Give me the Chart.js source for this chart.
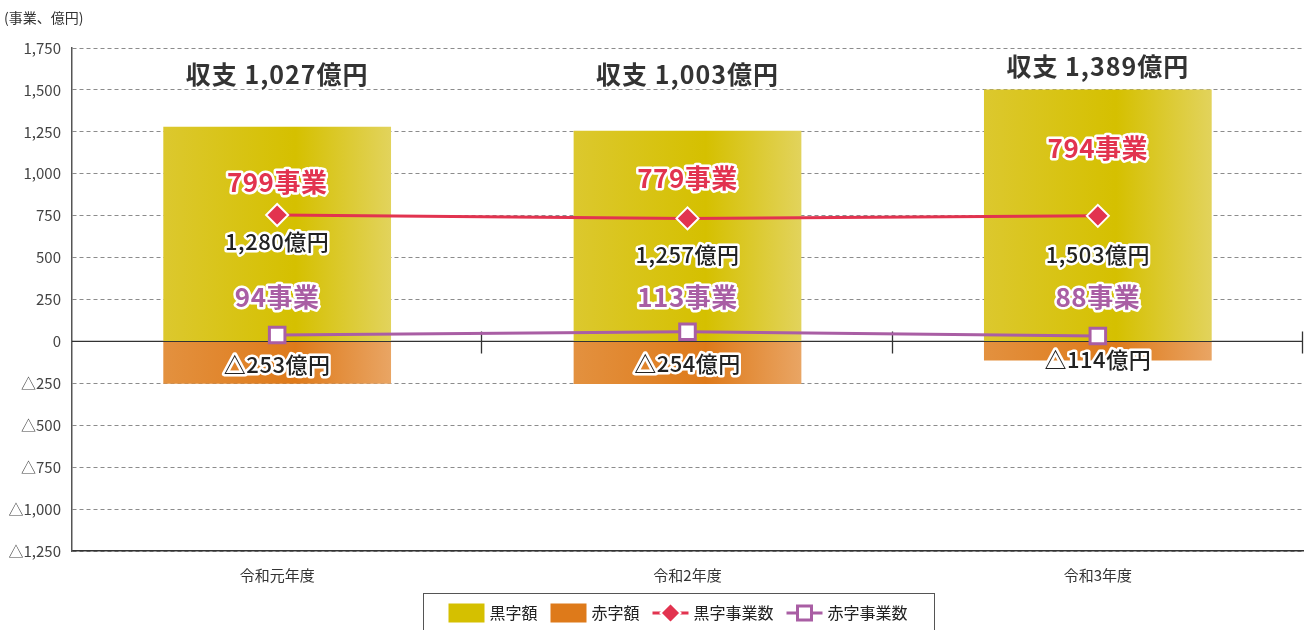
<!DOCTYPE html>
<html><head><meta charset="utf-8">
<script src="https://cdn.jsdelivr.net/npm/chart.js@4.4.1/dist/chart.umd.min.js"></script>
<style>html,body{margin:0;padding:0;background:#fff;overflow:hidden}#wrap{width:1306px;height:630px;position:relative;overflow:hidden}canvas{display:block}</style>
</head><body><div id="wrap"><canvas id="c" width="1306" height="630"></canvas></div>
<script>
// ---- data ----
const categories = ['令和元年度', '令和2年度', '令和3年度'];
const surplusAmount = [1280, 1257, 1503];   // 黒字額 (億円)
const deficitAmount = [-253, -254, -114];   // 赤字額 (億円)
const surplusCount = [799, 779, 794];       // 黒字事業数
const deficitCount = [94, 113, 88];         // 赤字事業数
const yTickValues = [-1250, -1000, -750, -500, -250, 0, 250, 500, 750, 1000, 1250, 1500, 1750];
const seriesNames = ['黒字額', '赤字額', '黒字事業数', '赤字事業数'];
const axisTitle = '(事業、億円)';

// label anchor heights (in y-axis value units)
const anchorNet = [1590, 1590, 1637];
const anchorSurplusCount = [949, 976, 1150];
const anchorSurplusAmt = [593, 520, 520];
const anchorDeficitCount = [267, 263, 267];
const anchorDeficitAmt = [-136, -130, -110];

const FONT = '"Noto Sans CJK JP", "Noto Sans", sans-serif';
const RED = '#e2334f', PURPLE = '#a95ea4';
const YELLOW = ['#dcc82e', '#d5c000', '#e2d35c'];
const ORANGE = ['#e3913f', '#de7a1a', '#e9a564'];
const CAT_PCT = 0.555;

const fmtNum = v => Math.abs(v).toLocaleString('en-US');
const fmtTick = v => (v < 0 ? '△' : '') + fmtNum(v);

function barGrad(stops) {
  return (c) => {
    const ch = c.chart;
    if (c.type !== 'data' || !ch.chartArea) return stops[1];
    const xs = ch.scales.x;
    const cx = xs.getPixelForValue(c.dataIndex);
    const w = (xs.width / categories.length) * CAT_PCT;
    const g = ch.ctx.createLinearGradient(cx - w / 2, 0, cx + w / 2, 0);
    g.addColorStop(0, stops[0]);
    g.addColorStop(0.58, stops[1]);
    g.addColorStop(1, stops[2]);
    return g;
  };
}

function outlined(ctx, text, x, y, font, color, outline, spacing) {
  ctx.save();
  ctx.font = font;
  if (spacing) ctx.letterSpacing = spacing;
  ctx.textAlign = 'center';
  ctx.textBaseline = 'middle';
  ctx.lineJoin = 'round';
  if (outline) {
    ctx.strokeStyle = '#fff';
    ctx.lineWidth = outline;
    ctx.strokeText(text, x, y);
  }
  ctx.fillStyle = color;
  ctx.fillText(text, x, y);
  ctx.restore();
}

const backPlugin = {
  id: 'back',
  beforeDatasetsDraw(chart) {
    const { ctx, chartArea: a } = chart;
    const y0 = chart.scales.y.getPixelForValue(0);
    ctx.save();
    ctx.strokeStyle = '#333';
    ctx.lineWidth = 1.3;
    ctx.beginPath();
    ctx.moveTo(a.left, y0); ctx.lineTo(a.right, y0);
    const step = a.width / categories.length;
    for (let i = 1; i <= categories.length; i++) {
      const x = Math.min(Math.round(a.left + step * i), a.right) - 0.5;
      ctx.moveTo(x, y0 - 10); ctx.lineTo(x, y0 + 12);
    }
    ctx.stroke();
    ctx.restore();
  }
};

const labelPlugin = {
  id: 'labels',
  afterDatasetsDraw(chart) {
    const ctx = chart.ctx, xs = chart.scales.x, ys = chart.scales.y;
    categories.forEach((_, i) => {
      const cx = xs.getPixelForValue(i);
      const net = surplusAmount[i] + deficitAmount[i];
      outlined(ctx, '収支 ' + fmtNum(net) + '億円', cx, ys.getPixelForValue(anchorNet[i]), 'bold 25px ' + FONT, '#333', 4, '1px');
      outlined(ctx, surplusCount[i] + '事業', cx, ys.getPixelForValue(anchorSurplusCount[i]), 'bold 26px ' + FONT, RED, 5, '0.5px');
      outlined(ctx, fmtNum(surplusAmount[i]) + '億円', cx, ys.getPixelForValue(anchorSurplusAmt[i]), '500 22px ' + FONT, '#222', 5, '0.5px');
      outlined(ctx, deficitCount[i] + '事業', cx, ys.getPixelForValue(anchorDeficitCount[i]), 'bold 26px ' + FONT, PURPLE, 5, '0.5px');
      outlined(ctx, '△' + fmtNum(deficitAmount[i]) + '億円', cx, ys.getPixelForValue(anchorDeficitAmt[i]), '500 22px ' + FONT, '#222', 5, '0.5px');
    });
  },
  afterDraw(chart) {
    const ctx = chart.ctx;
    ctx.save();
    // axis title
    ctx.font = '14px ' + FONT;
    ctx.fillStyle = '#333';
    ctx.textAlign = 'left';
    ctx.textBaseline = 'middle';
    ctx.fillText(axisTitle, 4, 18);

    // legend
    const ly = 613;
    ctx.font = '16px ' + FONT;
    const box = 36, gapT = 5, gapI = 13;
    const widths = seriesNames.map(n => box + gapT + ctx.measureText(n).width);
    const total = widths.reduce((s, w) => s + w, 0) + gapI * (seriesNames.length - 1);
    const center = 678;
    ctx.strokeStyle = '#555';
    ctx.lineWidth = 1;
    ctx.strokeRect(423.5, 593.5, 511, 40);
    let x = center - total / 2;
    seriesNames.forEach((n, i) => {
      if (i === 0 || i === 1) {
        ctx.fillStyle = i === 0 ? '#d5c000' : '#de7a1a';
        ctx.fillRect(x, ly - 9.5, box, 19);
      } else {
        const col = i === 2 ? RED : PURPLE;
        ctx.strokeStyle = col;
        ctx.lineWidth = 3;
        ctx.beginPath(); ctx.moveTo(x, ly); ctx.lineTo(x + box, ly); ctx.stroke();
        const mx = x + box / 2;
        if (i === 2) {
          ctx.beginPath();
          ctx.moveTo(mx, ly - 10); ctx.lineTo(mx + 10, ly); ctx.lineTo(mx, ly + 10); ctx.lineTo(mx - 10, ly); ctx.closePath();
          ctx.fillStyle = RED; ctx.fill();
          ctx.strokeStyle = '#fff'; ctx.lineWidth = 2; ctx.stroke();
        } else {
          ctx.fillStyle = '#fff';
          ctx.fillRect(mx - 7, ly - 7, 14, 14);
          ctx.strokeStyle = PURPLE; ctx.lineWidth = 3;
          ctx.strokeRect(mx - 7, ly - 7, 14, 14);
        }
      }
      ctx.fillStyle = '#222';
      ctx.textAlign = 'left';
      ctx.textBaseline = 'middle';
      ctx.fillText(n, x + box + gapT, ly);
      x += widths[i] + gapI;
    });
    ctx.restore();
  }
};

new Chart(document.getElementById('c'), {
  type: 'bar',
  data: {
    labels: categories,
    datasets: [
      { type: 'line', label: seriesNames[2], data: surplusCount, yAxisID: 'y2', order: 0,
        borderColor: RED, borderWidth: 3, pointStyle: 'rectRot', pointRadius: 11,
        pointBackgroundColor: RED, pointBorderColor: '#fff', pointBorderWidth: 2, tension: 0 },
      { type: 'line', label: seriesNames[3], data: deficitCount, yAxisID: 'y2', order: 1,
        borderColor: PURPLE, borderWidth: 3, pointStyle: 'rect', pointRadius: 11,
        pointBackgroundColor: '#fff', pointBorderColor: PURPLE, pointBorderWidth: 3, tension: 0 },
      { label: seriesNames[0], data: surplusAmount, order: 2, backgroundColor: barGrad(YELLOW),
        categoryPercentage: CAT_PCT, barPercentage: 1, borderWidth: 0 },
      { label: seriesNames[1], data: deficitAmount, order: 3, backgroundColor: barGrad(ORANGE),
        categoryPercentage: CAT_PCT, barPercentage: 1, borderWidth: 0 }
    ]
  },
  options: {
    responsive: false,
    animation: false,
    layout: { autoPadding: false, padding: { left: 0, right: 3, top: 48, bottom: 0 } },
    plugins: { legend: { display: false }, tooltip: { enabled: false } },
    scales: {
      x: {
        stacked: true,
        grid: { display: false },
        border: { display: true, color: '#333', width: 1.5 },
        ticks: { font: { size: 15, family: FONT }, color: '#333', padding: 7 },
        afterFit(s) { s.height = 79; }
      },
      y: {
        stacked: true, min: -1250, max: 1750,
        afterBuildTicks(s) { s.ticks = yTickValues.map(v => ({ value: v })); },
        ticks: { callback: v => fmtTick(v), font: { size: 15, family: FONT }, color: '#444', padding: 11 },
        grid: { color: c => (c.tick && c.tick.value === 0) ? 'rgba(0,0,0,0)' : '#8c8c8c', lineWidth: 1, drawTicks: false },
        border: { display: true, color: '#555', width: 1.5, dash: [4, 3] },
        afterFit(s) { s.width = 72; }
      },
      y2: { display: false, min: -1175, max: 1780 }
    }
  },
  plugins: [backPlugin, labelPlugin]
});
</script>
</body></html>
